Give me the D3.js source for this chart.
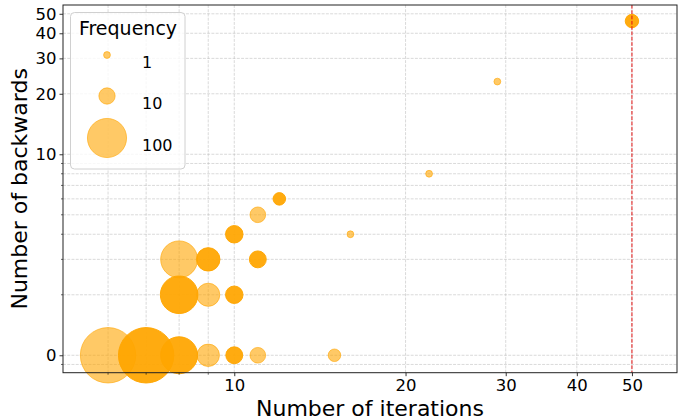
<!DOCTYPE html>
<html>
<head>
<meta charset="utf-8">
<script src="https://cdn.jsdelivr.net/npm/d3@7"></script>
<style>
  html, body { margin: 0; padding: 0; background: #fff; }
  svg { display: block; font-family: "DejaVu Sans", sans-serif; }
</style>
</head>
<body>
<svg id="chart" width="678" height="420"></svg>
<script>
// ---- data ----
const iterations = [6, 7, 8, 9, 10, 11, 15, 8, 9, 10, 8, 9, 11, 10, 16, 11, 12, 22, 29, 50];
const backwards  = [0, 0, 0, 0, 0, 0, 0, 2, 2, 2, 3, 3, 3, 4, 4, 5, 6, 8, 23, 46];
const frequency  = [250, 250, 86, 23, 11, 9, 5, 90, 25, 12, 86, 26, 11, 12, 1, 9, 5, 1, 1, 6];
const overlap    = [1, 3, 3, 1, 3, 1, 1, 3, 1, 3, 1, 3, 3, 3, 1, 1, 3, 1, 1, 3];
const maxIterations = 50;

const xTickValues = [10, 20, 30, 40, 50];
const xMinorTicks = [6, 7, 8, 9];
const yTickValues = [1, 10, 20, 30, 40, 50];
const yTickLabels = ["0", "10", "20", "30", "40", "50"];
const yMinorTicks = [0.9, 2, 3, 4, 5, 6, 7, 8, 9];
const legendFreqs = [1, 10, 100];

// ---- layout ----
const svg = d3.select("#chart");
const L = 63, R = 677, T = 5, B = 372.7;
const orange = "#FFA500";
const tickFont = "16.5px", labelFont = "22px";

const x = d3.scaleLog().domain([5, 60]).range([L, R]);
const y = d3.scaleLog().domain([0.819, 55.3]).range([B, T]);
const r = d3.scalePow().exponent(0.38).domain([0, 1]).range([0, 3.4]);

// grid
const grid = svg.append("g");
const gridStyle = s => s.attr("stroke", "#b0b0b0").attr("stroke-opacity", 0.6)
  .attr("stroke-width", 0.8).attr("stroke-dasharray", "2.96,1.28");
grid.selectAll("line.gx").data(xMinorTicks.concat(xTickValues)).join("line")
  .attr("x1", d => x(d)).attr("x2", d => x(d)).attr("y1", T).attr("y2", B).call(gridStyle);
grid.selectAll("line.gy").data(yMinorTicks.concat(yTickValues)).join("line")
  .attr("y1", d => y(d)).attr("y2", d => y(d)).attr("x1", L).attr("x2", R).call(gridStyle);

// scatter
const pts = iterations.map((it, i) => ({
  it, b: backwards[i], f: frequency[i], n: overlap[i]
}));
svg.append("g").selectAll("circle").data(pts).join("circle")
  .attr("cx", d => x(d.it))
  .attr("cy", d => y(Math.max(d.b, 1)))
  .attr("r", d => r(d.f))
  .attr("fill", orange)
  .attr("fill-opacity", d => 1 - Math.pow(0.4, d.n))
  .attr("stroke", orange)
  .attr("stroke-opacity", d => 1 - Math.pow(0.4, d.n))
  .attr("stroke-width", 1);

// max iterations line
svg.append("line")
  .attr("x1", x(maxIterations)).attr("x2", x(maxIterations))
  .attr("y1", T).attr("y2", B)
  .attr("stroke", "#e31010").attr("stroke-width", 1)
  .attr("stroke-dasharray", "3.7,1.6");

// axes
const xAxis = d3.axisBottom(x).tickValues(xTickValues).tickFormat(d3.format("d"))
  .tickSize(3.5).tickPadding(3);
const gx = svg.append("g").attr("transform", `translate(0,${B})`).call(xAxis);
gx.select(".domain").remove();
gx.selectAll("text").attr("font-size", tickFont).attr("fill", "#000")
  .attr("font-family", "DejaVu Sans, sans-serif");
gx.selectAll("line").attr("stroke", "#000").attr("stroke-width", 0.8);
svg.append("g").attr("transform", `translate(0,${B})`)
  .selectAll("line").data(xMinorTicks).join("line")
  .attr("x1", d => x(d)).attr("x2", d => x(d)).attr("y1", 0).attr("y2", 2)
  .attr("stroke", "#000").attr("stroke-width", 0.6);

const yAxis = d3.axisLeft(y).tickValues(yTickValues)
  .tickFormat((d, i) => yTickLabels[i]).tickSize(3.5).tickPadding(3);
const gy = svg.append("g").attr("transform", `translate(${L},0)`).call(yAxis);
gy.select(".domain").remove();
gy.selectAll("text").attr("font-size", tickFont).attr("fill", "#000")
  .attr("font-family", "DejaVu Sans, sans-serif");
gy.selectAll("line").attr("stroke", "#000").attr("stroke-width", 0.8);
svg.append("g").attr("transform", `translate(${L},0)`)
  .selectAll("line").data(yMinorTicks).join("line")
  .attr("y1", d => y(d)).attr("y2", d => y(d)).attr("x1", 0).attr("x2", -2)
  .attr("stroke", "#000").attr("stroke-width", 0.6);

// spines
svg.append("rect").attr("x", L).attr("y", T).attr("width", R - L).attr("height", B - T)
  .attr("fill", "none").attr("stroke", "#222").attr("stroke-width", 1);

// axis labels
svg.append("text").attr("x", (L + R) / 2).attr("y", 416)
  .attr("text-anchor", "middle").attr("font-size", labelFont).attr("fill", "#000")
  .text("Number of iterations");
svg.append("text").attr("transform", `translate(27,${(T + B) / 2}) rotate(-90)`)
  .attr("text-anchor", "middle").attr("font-size", labelFont).attr("fill", "#000")
  .text("Number of backwards");

// legend
const lg = svg.append("g");
lg.append("rect").attr("x", 70.5).attr("y", 12.5).attr("width", 114.5).attr("height", 156.5)
  .attr("rx", 4).attr("fill", "#fff").attr("fill-opacity", 0.8)
  .attr("stroke", "#d0d0d0").attr("stroke-width", 1);
lg.append("text").attr("x", 128).attr("y", 34.5).attr("text-anchor", "middle")
  .attr("font-size", "19px").attr("fill", "#000").text("Frequency");
const legendY = [55, 96, 138];
const lItems = lg.selectAll("g.item").data(legendFreqs).join("g")
  .attr("transform", (d, i) => `translate(0,${legendY[i]})`);
lItems.append("circle").attr("cx", 107).attr("cy", 0).attr("r", d => r(d))
  .attr("fill", orange).attr("fill-opacity", 0.6)
  .attr("stroke", orange).attr("stroke-opacity", 0.6).attr("stroke-width", 1);
lItems.append("text").attr("x", 142).attr("y", 12.5).attr("font-size", "16px")
  .attr("fill", "#000").text(d => d);
</script>
</body>
</html>
